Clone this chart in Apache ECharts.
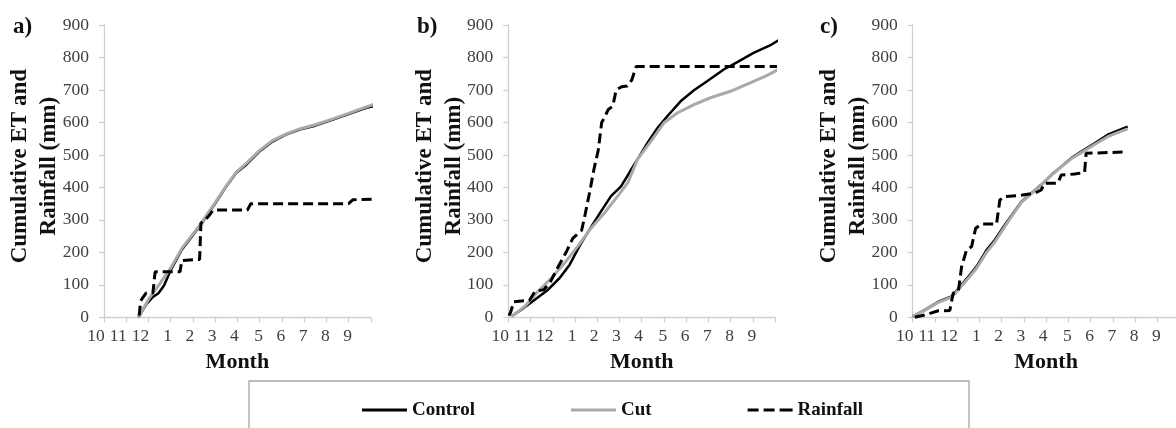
<!DOCTYPE html>
<html>
<head>
<meta charset="utf-8">
<script src="https://cdn.jsdelivr.net/npm/echarts@6/dist/echarts.min.js"></script>
<style>
html,body{margin:0;padding:0;background:#fff;}
#chart{width:1176px;height:428px;}
</style>
</head>
<body>
<div id="chart"></div>
<script>
// Month tick labels (x = months since 1 October)
const monthLabels = ['10','11','12','1','2','3','4','5','6','7','8','9',''];
const panelLabels = ['a)','b)','c)'];
const seriesNames = ['Control','Cut','Rainfall'];

// Panel a
const aControl = [[1.55,0],[1.9,40],[2.2,63],[2.45,74],[2.7,98],[3.0,145],[3.5,208],[4.3,280],[4.97,347],[5.5,403],[5.95,445],[6.4,470],[7.0,511],[7.6,542],[8.2,563],[8.8,578],[9.5,590],[10.3,609],[11.0,626],[11.8,645],[12.2,652]];
const aCut = [[1.55,0],[2.0,55],[2.5,102],[3.0,152],[3.5,212],[4.3,283],[4.97,350],[5.5,405],[5.95,447],[6.4,474],[7.0,514],[7.6,545],[8.2,565],[8.8,580],[9.5,593],[10.3,611],[11.0,628],[11.8,648],[12.2,657]];
const aRain = [[1.58,5],[1.65,50],[1.72,58],[1.9,75],[2.2,75],[2.3,140],[3.42,140],[3.5,175],[4.3,178],[4.36,290],[4.55,300],[4.75,315],[4.9,330],[6.45,330],[6.6,350],[11.0,350],[11.2,362],[12.2,364]];

// Panel b
const bControl = [[0.15,3],[0.6,24],[1.19,54],[1.79,85],[2.31,121],[2.76,162],[3.2,219],[3.65,270],[4.17,326],[4.62,373],[5.07,403],[5.44,445],[5.81,486],[6.26,537],[6.71,583],[7.15,619],[7.75,665],[8.35,699],[8.94,727],[9.69,763],[10.28,785],[11.03,814],[11.77,837],[12.15,853]];
const bCut = [[0.15,3],[0.75,34],[1.34,80],[1.94,121],[2.53,167],[3.13,219],[3.73,275],[4.32,321],[4.92,373],[5.37,414],[5.81,486],[6.41,542],[7.0,599],[7.6,629],[8.35,655],[9.09,676],[9.99,696],[10.88,722],[11.62,744],[12.15,763]];
const bRain = [[0.03,5],[0.1,15],[0.25,48],[0.95,52],[1.2,80],[1.6,85],[1.9,110],[2.2,150],[2.6,200],[2.9,243],[3.3,268],[3.45,315],[3.65,382],[3.85,455],[4.05,516],[4.2,600],[4.3,612],[4.5,640],[4.7,650],[4.85,700],[5.1,710],[5.35,712],[5.55,730],[5.75,772],[12.15,772]];

// Panel c
const cControl = [[0.0,2],[0.55,23],[1.15,48],[1.75,64],[2.12,94],[2.5,125],[2.87,156],[3.32,207],[3.69,238],[4.14,284],[4.51,320],[4.89,356],[5.34,382],[5.78,408],[6.23,438],[6.68,464],[7.13,490],[7.58,510],[8.18,536],[8.77,562],[9.3,577],[9.67,587]];
const cCut = [[0.0,2],[0.55,22],[1.15,46],[1.75,62],[2.12,90],[2.5,120],[2.87,151],[3.32,200],[3.69,232],[4.14,279],[4.51,317],[4.89,354],[5.34,381],[5.78,407],[6.23,437],[6.68,463],[7.13,488],[7.58,507],[8.18,532],[8.77,556],[9.3,571],[9.67,580]];
const cRain = [[0.1,0],[0.55,7],[0.78,12],[1.15,20],[1.67,21],[1.82,74],[2.05,79],[2.2,156],[2.42,207],[2.65,218],[2.83,274],[3.09,287],[3.77,287],[3.92,361],[4.14,372],[4.81,375],[5.49,382],[5.78,392],[5.93,413],[6.53,413],[6.68,438],[7.28,441],[7.73,446],[7.8,505],[9.52,509]];

const panelData = [[aControl,aCut,aRain],[bControl,bCut,bRain],[cControl,cCut,cRain]];

const FONT = '"Liberation Serif", "Times New Roman", serif';
const gridLefts = [104, 508.3, 912.7];
const GRID_W = 266.8;
const axisGray = '#cfcfcf';

const grids = gridLefts.map(l => ({left:l, width:GRID_W, top:25, bottom:110.7, containLabel:false, outerBoundsMode:'none'}));

const xAxes = gridLefts.map((l,i) => ({
  type:'value', gridIndex:i, min:0, max:12, interval:1,
  axisLine:{show:true, lineStyle:{color:axisGray, width:1.3}},
  axisTick:{show:true, length:5, lineStyle:{color:axisGray, width:1.3}},
  splitLine:{show:false},
  axisLabel:{
    margin:10, color:'#404040', fontFamily:FONT, fontSize:17.5,
    formatter:function(v){
      const s = monthLabels[Math.round(v)];
      if(!s) return '';
      if(s.length===2) return '{d|'+s+'}';
      return (+s<=4) ? '{e|'+s+'}' : '{f|'+s+'}';
    },
    rich:{
      d:{padding:[0,16,0,0], fontFamily:FONT, fontSize:17.5, color:'#404040'},
      e:{padding:[0,6,0,0], fontFamily:FONT, fontSize:17.5, color:'#404040'},
      f:{padding:[0,2,0,0], fontFamily:FONT, fontSize:17.5, color:'#404040'}
    }
  },
  name:'Month', nameLocation:'middle', nameGap:34, nameMoveOverlap:false,
  nameTextStyle:{fontFamily:FONT, fontWeight:'bold', fontSize:22, color:'#111'}
}));

const yAxes = gridLefts.map((l,i) => ({
  type:'value', gridIndex:i, min:0, max:900, interval:100,
  axisLine:{show:true, lineStyle:{color:axisGray, width:1.3}},
  axisTick:{show:true, length:5, lineStyle:{color:axisGray, width:1.3}},
  splitLine:{show:false},
  axisLabel:{margin:15, color:'#404040', fontFamily:FONT, fontSize:17.5},
  name:'Cumulative ET and\nRainfall (mm)', nameLocation:'middle', nameGap:40, nameMoveOverlap:false,
  nameTextStyle:{fontFamily:FONT, fontWeight:'bold', fontSize:23, lineHeight:29, color:'#111', padding:[0,0,0,10]}
}));

const styles = [
  {color:'#000000', width:2.5, type:'solid'},
  {color:'#a9a9a9', width:3, type:'solid'},
  {color:'#000000', width:3, type:[10,5]}
];
const legendIcons = [
  'path://M0,0h45v3h-45z',
  'path://M0,0h45v3h-45z',
  'path://M0,0h11v3h-11zM16,0h11v3h-11zM32,0h13v3h-13z'
];

const series = [];
panelData.forEach((arr, gi) => {
  arr.forEach((d, si) => {
    series.push({
      name:seriesNames[si], type:'line', xAxisIndex:gi, yAxisIndex:gi,
      data:d, showSymbol:false, symbol:'none', clip:false, animation:false,
      lineStyle:{color:styles[si].color, width:styles[si].width, type:styles[si].type},
      itemStyle:{color:styles[si].color},
      z: 2 + si
    });
  });
});

const titles = panelLabels.map((t,i) => ({
  text:t, left:[13,417,820][i], top:16, padding:0,
  textStyle:{fontFamily:FONT, fontWeight:'bold', fontSize:23, color:'#111'}
}));

const chart = echarts.init(document.getElementById('chart'), null, {renderer:'canvas'});
chart.setOption({
  animation:false,
  backgroundColor:'#ffffff',
  title:titles,
  grid:grids,
  xAxis:xAxes,
  yAxis:yAxes,
  legend:{
    show:true,
    data:seriesNames.map((n,i) => ({name:n, icon:legendIcons[i], itemStyle:{color:styles[i].color, borderWidth:0}})),
    left:362, top:400.5, itemWidth:45, itemHeight:3, itemGap:96,
    padding:0,
    textStyle:{fontFamily:FONT, fontWeight:'bold', fontSize:19, color:'#111'},
    selectedMode:false
  },
  graphic:[{
    type:'rect', left:246.5, top:378.5, silent:true, z:-1,
    shape:{width:720, height:80},
    style:{fill:'none', stroke:'#a6a6a6', lineWidth:1.3}
  }],
  series:series
});
</script>
</body>
</html>
